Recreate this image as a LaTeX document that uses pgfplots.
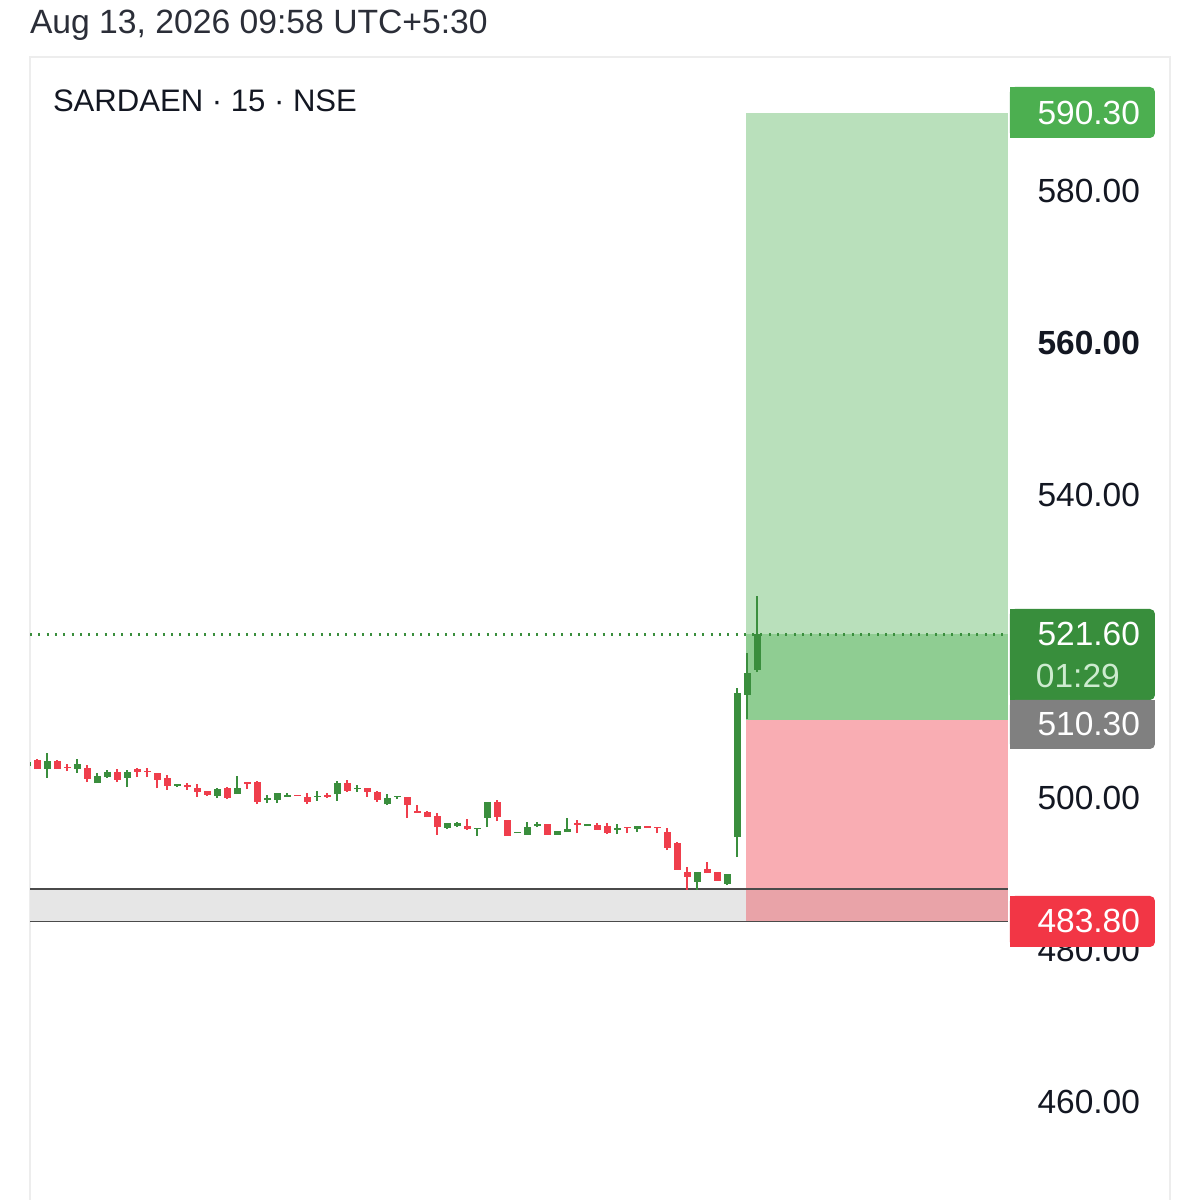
\documentclass[border=0pt]{standalone}
\usepackage{fontspec}
\setmainfont{Liberation Sans}
\usepackage{pgfplots}
\usepackage{pgfplotstable}
\pgfplotsset{compat=1.18}
\definecolor{cgreen}{HTML}{3A8E3D}
\definecolor{cred}{HTML}{EF3E4C}
\definecolor{boxgreen}{HTML}{B9E0BB}
\definecolor{boxgreendk}{HTML}{8FCD92}
\definecolor{boxred}{HTML}{F9ADB3}
\definecolor{overlap}{HTML}{E9A3A8}
\definecolor{band}{HTML}{E6E6E6}
\definecolor{bandline}{HTML}{4A4A4A}
\definecolor{lblgreen}{HTML}{4CAF50}
\definecolor{lblgreendk}{HTML}{388E3C}
\definecolor{lblgrey}{HTML}{808080}
\definecolor{lblred}{HTML}{F23645}
\definecolor{txt}{HTML}{131722}
\definecolor{timer}{HTML}{CDEBCF}

\pgfplotstableread{
i O H L C
-1 504.27 504.93 504.14 504.80
1 503.87 505.98 502.69 504.93
4 503.87 505.19 503.35 504.53
6 502.03 503.35 502.03 502.95
7 502.82 503.74 502.69 503.48
9 502.69 503.74 501.50 503.48
14 501.64 501.90 501.50 501.90
18 500.32 501.37 500.05 501.24
20 500.58 502.95 500.58 501.37
23 499.79 500.45 499.39 500.05
24 499.79 500.71 499.39 500.71
25 500.19 500.71 500.19 500.45
28 500.19 500.98 499.66 500.32
30 500.58 502.29 499.66 502.03
32 501.24 501.77 500.85 501.37
35 499.20 500.58 499.13 500.10
36 500.19 500.32 499.92 500.32
41 496.10 496.76 495.97 496.76
42 496.36 496.89 496.23 496.76
44 495.97 496.10 495.05 496.10
45 497.42 499.53 496.23 499.53
48 495.44 495.57 495.44 495.57
49 495.18 496.89 495.18 496.23
50 496.36 496.89 496.23 496.63
52 495.18 495.71 495.18 495.71
53 495.57 497.42 495.57 495.97
55 496.36 496.63 496.36 496.63
58 495.84 496.63 495.31 496.10
60 495.97 496.36 495.57 496.36
66 488.99 490.30 487.93 490.30
69 488.73 490.04 488.59 490.04
70 494.91 514.55 492.28 513.89
71 513.62 519.16 510.46 516.52
72 516.92 526.67 516.65 521.60
}\greendata

\pgfplotstableread{
i O H L C
0 505.06 505.19 503.87 503.87
2 504.93 505.06 503.87 503.87
3 504.14 504.53 503.61 504.01
5 504.01 504.40 502.16 502.56
8 503.48 503.87 502.16 502.43
10 503.87 504.01 502.82 503.48
11 503.61 504.01 502.82 503.48
12 503.35 503.35 501.37 502.43
13 502.69 503.08 501.11 501.64
15 501.77 502.03 501.11 501.50
16 501.37 501.90 500.19 500.85
17 500.98 500.98 500.32 500.45
19 501.37 501.50 499.92 500.05
21 502.16 502.16 501.24 501.90
22 502.16 502.29 499.26 499.53
26 500.45 500.45 500.32 500.32
27 500.19 500.71 499.26 499.53
29 500.45 500.71 500.05 500.19
31 502.03 502.43 500.85 500.98
33 501.37 501.37 500.19 500.85
34 500.85 500.98 499.53 499.79
37 500.19 500.19 497.42 499.13
38 498.34 499.13 498.08 498.08
39 498.21 498.34 497.55 497.55
40 497.68 498.08 495.18 496.23
43 496.36 497.29 495.84 495.97
46 499.53 499.79 497.02 497.55
47 497.15 497.15 495.05 495.05
51 496.63 496.63 495.18 495.18
54 496.76 497.15 495.44 496.50
56 496.50 496.76 495.84 495.84
57 496.36 496.76 495.31 495.44
59 496.23 496.23 495.44 496.10
61 496.36 496.36 496.10 496.10
62 496.23 496.23 495.44 496.10
63 495.57 496.10 493.20 493.47
64 494.12 494.26 490.57 490.57
65 490.30 490.96 487.93 489.65
67 490.70 491.62 490.17 490.17
68 490.30 490.30 489.12 489.12
}\reddata

\begin{document}
\begin{tikzpicture}
\path[use as bounding box, fill=white] (0,0) rectangle (600bp,-600bp);
\begin{scope}[x=0.5bp,y=-0.5bp]
\draw[black!7, line width=0.7bp] (30,1200) -- (30,57) -- (1170,57) -- (1170,1200);
\end{scope}
\begin{axis}[
  at={(15bp,-600bp)}, anchor=south west,
  width=489bp, height=571.5bp, scale only axis,
  xmin=-0.73, xmax=97.07, ymin=447.09, ymax=597.68,
  hide axis, clip=true,
  candle/.style={forget plot, draw=none, mark=none,
    error bars/.cd, y dir=plus, y explicit, error mark=none},
]
% grey band
\fill[band] (-0.73,483.8) rectangle (70.87,488.07);
% target boxes
\fill[boxred] (70.87,483.8) rectangle (97.07,510.3);
\fill[overlap] (70.87,483.8) rectangle (97.07,488.07);
\fill[boxgreen] (70.87,510.3) rectangle (97.07,590.3);
\fill[boxgreendk] (70.87,510.3) rectangle (97.07,521.6);
% band lines
\draw[bandline, line width=0.7bp] (-0.73,488.07) -- (97.07,488.07);
\draw[bandline, line width=0.7bp] (-0.73,483.8) -- (97.07,483.8);
% last price dotted line
\draw[cgreen, line width=1.1bp, dash pattern=on 1bp off 3.15bp] (-0.73,521.6) -- (97.07,521.6);
% wicks
\addplot[candle, error bar style={draw=cgreen, solid, line width=0.9bp}]
  table[x=i, y=L, y error expr=\thisrow{H}-\thisrow{L}] \greendata;
\addplot[candle, error bar style={draw=cred, solid, line width=0.9bp}]
  table[x=i, y=L, y error expr=\thisrow{H}-\thisrow{L}] \reddata;
% bodies
\addplot[candle, error bar style={draw=cgreen, solid, line width=3.5bp}]
  table[x=i, y=O, y error expr=\thisrow{C}-\thisrow{O}] \greendata;
\addplot[candle, error bar style={draw=cred, solid, line width=3.5bp}]
  table[x=i, y=C, y error expr=\thisrow{O}-\thisrow{C}] \reddata;
\end{axis}
\begin{scope}[x=0.5bp,y=-0.5bp, every node/.style={inner sep=0pt, outer sep=0pt}]
\node[anchor=base west, text=txt!90, font=\fontsize{16.9}{19}\selectfont] at (30,33) {Aug 13, 2026 09:58 UTC+5:30};
\node[anchor=base west, text=txt, font=\fontsize{15.6}{18}\selectfont] at (53,112) {SARDAEN · 15 · NSE};
% price scale labels
\foreach \yy/\lab in {191/580.00, 495/540.00, 798/500.00, 950/480.00, 1102/460.00}
  \node[anchor=east, text=txt, font=\fontsize{16.8}{19}\selectfont] at (1140,\yy) {\lab};
\node[anchor=east, text=txt, font=\fontsize{16.8}{19}\selectfont\bfseries] at (1140,343) {560.00};
% label boxes
\fill[lblgreen, rounded corners=2.5bp] (1010,87) rectangle (1155,138);
\fill[lblgreen] (1010,87) rectangle (1100,138);
\fill[lblgreendk, rounded corners=2.5bp] (1010,609) rectangle (1155,700);
\fill[lblgreendk] (1010,609) rectangle (1100,700);
\fill[lblgrey, rounded corners=2.5bp] (1010,700) rectangle (1155,749);
\fill[lblgrey] (1010,700) rectangle (1100,749);
\fill[lblgrey] (1100,700) rectangle (1155,715);
\fill[lblred, rounded corners=2.5bp] (1010,896) rectangle (1155,947);
\fill[lblred] (1010,896) rectangle (1100,947);
\node[anchor=east, text=white, font=\fontsize{16.8}{19}\selectfont] at (1140,113) {590.30};
\node[anchor=east, text=white, font=\fontsize{16.8}{19}\selectfont] at (1140,634) {521.60};
\node[anchor=west, text=timer, font=\fontsize{16.8}{19}\selectfont] at (1036,676) {01:29};
\node[anchor=east, text=white, font=\fontsize{16.8}{19}\selectfont] at (1140,724) {510.30};
\node[anchor=east, text=white, font=\fontsize{16.8}{19}\selectfont] at (1140,921) {483.80};
\end{scope}
\end{tikzpicture}
\end{document}
